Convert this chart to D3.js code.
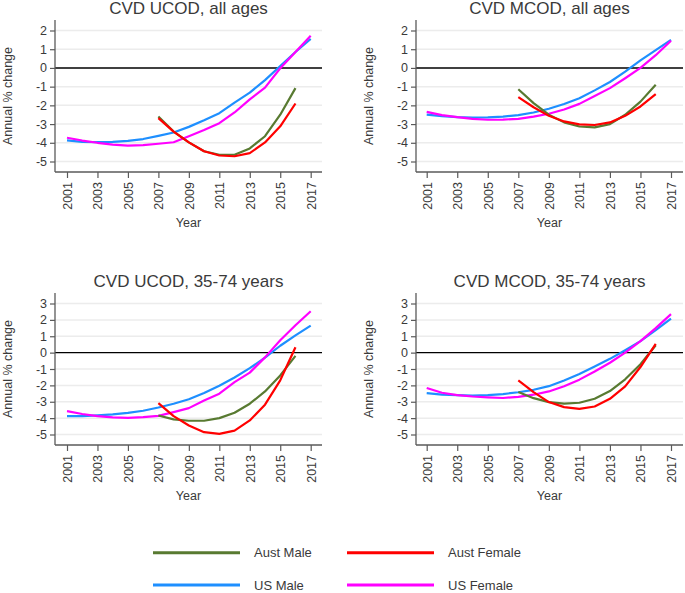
<!DOCTYPE html>
<html>
<head>
<meta charset="utf-8">
<script src="https://cdn.jsdelivr.net/npm/d3@7"></script>
<style>
  html, body { margin: 0; padding: 0; background: #fff; }
  svg { display: block; font-family: "Liberation Sans", Arial, sans-serif; }
</style>
</head>
<body>
<svg id="chart" width="685" height="593"></svg>
<script>
// ---------- DATA ----------
const usYears = [2001,2002,2003,2004,2005,2006,2007,2008,2009,2010,2011,2012,2013,2014,2015,2016,2017];
const austYears = [2007,2008,2009,2010,2011,2012,2013,2014,2015,2016];
const xTickYears = [2001,2003,2005,2007,2009,2011,2013,2015,2017];
const yTicksAll = [-5,-4,-3,-2,-1,0,1,2];
const yTicks3574 = [-5,-4,-3,-2,-1,0,1,2,3];

const seriesNames = ["Aust Male", "Aust Female", "US Male", "US Female"];
const seriesColors = ["#587a31", "#ff0000", "#1e8fff", "#ff00ff"];

const panelTitles = ["CVD UCOD, all ages", "CVD MCOD, all ages", "CVD UCOD, 35-74 years", "CVD MCOD, 35-74 years"];

// Panel 1: CVD UCOD, all ages
const ucodAllAustMale   = [-2.6,-3.4,-3.98,-4.45,-4.64,-4.64,-4.3,-3.65,-2.5,-1.08];
const ucodAllAustFemale = [-2.68,-3.4,-3.98,-4.45,-4.68,-4.72,-4.55,-3.98,-3.12,-1.9];
const ucodAllUSMale     = [-3.87,-3.95,-3.97,-3.95,-3.9,-3.8,-3.63,-3.45,-3.15,-2.8,-2.42,-1.85,-1.32,-0.65,0.1,0.85,1.55];
const ucodAllUSFemale   = [-3.73,-3.88,-4.0,-4.1,-4.15,-4.12,-4.05,-3.97,-3.65,-3.32,-2.95,-2.38,-1.68,-1.05,-0.02,0.85,1.72];

// Panel 2: CVD MCOD, all ages
const mcodAllAustMale   = [-1.14,-1.88,-2.5,-2.91,-3.13,-3.18,-3.0,-2.5,-1.8,-0.9];
const mcodAllAustFemale = [-1.56,-2.1,-2.56,-2.86,-3.02,-3.05,-2.91,-2.56,-2.06,-1.4];
const mcodAllUSMale     = [-2.5,-2.58,-2.63,-2.65,-2.64,-2.6,-2.52,-2.38,-2.18,-1.93,-1.62,-1.2,-0.75,-0.2,0.4,0.95,1.5];
const mcodAllUSFemale   = [-2.35,-2.52,-2.63,-2.72,-2.77,-2.76,-2.72,-2.6,-2.45,-2.22,-1.92,-1.5,-1.08,-0.55,0.0,0.68,1.45];

// Panel 3: CVD UCOD, 35-74 years
const ucod3574AustMale   = [-3.84,-4.08,-4.16,-4.16,-4.0,-3.67,-3.12,-2.37,-1.39,-0.2];
const ucod3574AustFemale = [-3.08,-3.88,-4.45,-4.86,-4.96,-4.76,-4.14,-3.18,-1.69,0.33];
const ucod3574USMale     = [-3.88,-3.88,-3.83,-3.77,-3.68,-3.55,-3.35,-3.12,-2.85,-2.47,-2.02,-1.52,-0.95,-0.3,0.42,1.05,1.65];
const ucod3574USFemale   = [-3.57,-3.75,-3.88,-3.95,-3.98,-3.94,-3.86,-3.63,-3.39,-2.92,-2.51,-1.8,-1.22,-0.29,0.76,1.67,2.53];

// Panel 4: CVD MCOD, 35-74 years
const mcod3574AustMale   = [-2.41,-2.78,-3.02,-3.12,-3.06,-2.82,-2.35,-1.63,-0.71,0.45];
const mcod3574AustFemale = [-1.69,-2.41,-3.02,-3.33,-3.43,-3.29,-2.82,-2.06,-0.88,0.53];
const mcod3574USMale     = [-2.47,-2.56,-2.6,-2.62,-2.6,-2.53,-2.42,-2.27,-2.05,-1.7,-1.3,-0.85,-0.38,0.15,0.7,1.38,2.08];
const mcod3574USFemale   = [-2.16,-2.45,-2.6,-2.68,-2.73,-2.77,-2.7,-2.57,-2.37,-2.05,-1.65,-1.15,-0.62,0.0,0.7,1.5,2.35];

// ---------- LAYOUT ----------
const panels = [
  { title: panelTitles[0], ticks: yTicksAll, data: [ucodAllAustMale, ucodAllAustFemale, ucodAllUSMale, ucodAllUSFemale],
    axisX: 55, right: 322, top: 20, bottom: 172, xr: [67, 310.7] },
  { title: panelTitles[1], ticks: yTicksAll, data: [mcodAllAustMale, mcodAllAustFemale, mcodAllUSMale, mcodAllUSFemale],
    axisX: 416, right: 683, top: 20, bottom: 172, xr: [426.7, 671] },
  { title: panelTitles[2], ticks: yTicks3574, data: [ucod3574AustMale, ucod3574AustFemale, ucod3574USMale, ucod3574USFemale],
    axisX: 55, right: 322, top: 293, bottom: 445, xr: [67, 310.7] },
  { title: panelTitles[3], ticks: yTicks3574, data: [mcod3574AustMale, mcod3574AustFemale, mcod3574USMale, mcod3574USFemale],
    axisX: 416, right: 683, top: 293, bottom: 445, xr: [426.7, 671] }
];

const textColor = "#3a3a3a";
const axisColor = "#5a5a5a";
const svg = d3.select("#chart");

panels.forEach(p => {
  const g = svg.append("g");
  const x = d3.scaleLinear().domain([2001, 2017]).range(p.xr);
  const y = d3.scaleLinear().domain([d3.min(p.ticks), d3.max(p.ticks)]).range([p.bottom - 10.5, p.top + 10.5]);

  // gridlines
  g.append("g").selectAll("line").data(p.ticks.filter(t => t !== 0)).join("line")
    .attr("x1", p.axisX).attr("x2", p.right)
    .attr("y1", d => y(d)).attr("y2", d => y(d))
    .attr("stroke", "#ececec").attr("stroke-width", 1.5);

  // zero line
  g.append("line").attr("x1", p.axisX).attr("x2", p.right)
    .attr("y1", y(0)).attr("y2", y(0))
    .attr("stroke", "#000").attr("stroke-width", 1.4);

  // y axis
  const yAxis = d3.axisLeft(y).tickValues(p.ticks).tickSize(5).tickPadding(3).tickFormat(d3.format("d"));
  const ya = g.append("g").attr("transform", `translate(${p.axisX},0)`).call(yAxis);
  ya.select(".domain").attr("d", `M0,${p.top}V${p.bottom}`).attr("stroke", axisColor).attr("stroke-width", 1.3);
  ya.selectAll(".tick line").attr("stroke", axisColor).attr("stroke-width", 1.2);
  ya.selectAll(".tick text").attr("fill", textColor).style("font-size", "12.5px")
    .text(d => d < 0 ? "-" + Math.abs(d) : d);

  // x axis
  const xAxis = d3.axisBottom(x).tickValues(xTickYears).tickSize(6).tickFormat(d3.format("d"));
  const xa = g.append("g").attr("transform", `translate(0,${p.bottom})`).call(xAxis);
  xa.select(".domain").attr("d", `M${p.axisX},0H${p.right}`).attr("stroke", axisColor).attr("stroke-width", 1.3);
  xa.selectAll(".tick line").attr("stroke", axisColor).attr("stroke-width", 1.2);
  xa.selectAll(".tick text").attr("fill", textColor).style("font-size", "12.5px")
    .attr("text-anchor", "end").attr("transform", "translate(0,10) rotate(-90)")
    .attr("x", 0).attr("y", 0).attr("dy", "0.35em");

  // series
  const yearsFor = i => i < 2 ? austYears : usYears;
  const line = d3.line().x(d => x(d[0])).y(d => y(d[1]));
  [2, 3, 0, 1].forEach(i => {
    const yrs = yearsFor(i);
    const pts = p.data[i].map((v, k) => [yrs[k], v]);
    g.append("path").attr("d", line(pts)).attr("fill", "none")
      .attr("stroke", seriesColors[i]).attr("stroke-width", 2.2)
      .attr("stroke-linejoin", "round");
  });

  const cx = (p.axisX + p.right) / 2;
  // title
  g.append("text").attr("x", cx).attr("y", p.top - 6).attr("text-anchor", "middle")
    .attr("fill", textColor).style("font-size", "17px").text(p.title);
  // x label
  g.append("text").attr("x", cx).attr("y", p.bottom + 55).attr("text-anchor", "middle")
    .attr("fill", textColor).style("font-size", "12.5px").text("Year");
  // y label
  g.append("text").attr("transform", `translate(${p.axisX - 43},${(p.top + p.bottom) / 2}) rotate(-90)`)
    .attr("text-anchor", "middle").attr("fill", textColor).style("font-size", "12.5px").text("Annual % change");
});

// ---------- LEGEND ----------
const legendPos = [[153, 552.7], [347, 552.7], [153, 585], [347, 585]];
const lg = svg.append("g");
seriesNames.forEach((name, i) => {
  const [lx, ly] = legendPos[i];
  lg.append("line").attr("x1", lx).attr("x2", lx + 87).attr("y1", ly).attr("y2", ly)
    .attr("stroke", seriesColors[i]).attr("stroke-width", 3);
  lg.append("text").attr("x", lx + 101).attr("y", ly).attr("dy", "0.35em")
    .attr("fill", textColor).style("font-size", "13px").text(name);
});
</script>
</body>
</html>
